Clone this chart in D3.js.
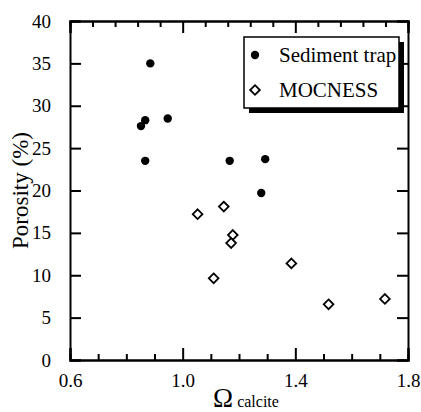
<!DOCTYPE html>
<html><head><meta charset="utf-8">
<script src="https://cdn.jsdelivr.net/npm/d3@7"></script>
<style>html,body{margin:0;padding:0;background:#fff;}svg{display:block;}</style>
</head><body>
<script>
const trapX = [0.885, 0.852, 0.867, 0.947, 0.867, 1.167, 1.293, 1.279];
const trapY = [35.0, 27.6, 28.3, 28.5, 23.5, 23.5, 23.7, 19.7];
const mocX = [1.053, 1.146, 1.178, 1.172, 1.110, 1.386, 1.518, 1.718];
const mocY = [17.2, 18.1, 14.75, 13.8, 9.64, 11.4, 6.57, 7.2];
const xTicks = [0.6, 1.0, 1.4, 1.8];
const yTicks = [0, 5, 10, 15, 20, 25, 30, 35, 40];
const seriesNames = ["Sediment trap", "MOCNESS"];

(function() {
const W = 421, H = 412;
const m = {l: 70, r: 408, t: 21, b: 360};
const font = '"Liberation Serif", "Times New Roman", serif';
const svg = d3.select("body").append("svg").attr("width", W).attr("height", H);
const x = d3.scaleLinear().domain([0.6, 1.8]).range([m.l, m.r]);
const y = d3.scaleLinear().domain([0, 40]).range([m.b, m.t]);

const fmt = d => d3.format(".1f")(d);
const notMajor = v => !xTicks.some(t => Math.abs(t - v) < 1e-6);
// bottom axis
const gBottom = svg.append("g").attr("transform", `translate(0,${m.b})`)
  .call(d3.axisBottom(x).tickValues(xTicks).tickFormat(fmt).tickSize(-12).tickPadding(14));
gBottom.append("g").call(d3.axisBottom(x).tickValues(d3.range(0.6, 1.8001, 0.1).filter(notMajor)).tickSize(-6).tickFormat(""));
// top axis
const gTop = svg.append("g").attr("transform", `translate(0,${m.t})`)
  .call(d3.axisTop(x).tickValues(xTicks).tickFormat("").tickSize(-12));
gTop.append("g").call(d3.axisTop(x).tickValues(d3.range(0.6, 1.8001, 0.08).filter(notMajor)).tickSize(-6).tickFormat(""));
// left axis
svg.append("g").attr("transform", `translate(${m.l},0)`)
  .call(d3.axisLeft(y).tickValues(yTicks).tickSize(-11).tickPadding(19));
// right axis
svg.append("g").attr("transform", `translate(${m.r},0)`)
  .call(d3.axisRight(y).tickValues(yTicks).tickSize(-11).tickFormat(""));

svg.selectAll("g").attr("font-family", null);
svg.selectAll(".domain").attr("stroke", "#000").attr("stroke-width", 2);
svg.selectAll(".tick line").attr("stroke", "#000").attr("stroke-width", 2);
svg.selectAll(".tick text").style("font-family", font).style("font-size", "19px").attr("fill", "#000");

// data
svg.append("g").selectAll("circle").data(trapX.map((v, i) => [v, trapY[i]])).join("circle")
  .attr("cx", d => x(d[0])).attr("cy", d => y(d[1])).attr("r", 4.2).attr("fill", "#000");
const diamond = d3.symbol().type(d3.symbolDiamond2).size(60);
svg.append("g").selectAll("path").data(mocX.map((v, i) => [v, mocY[i]])).join("path")
  .attr("d", diamond).attr("transform", d => `translate(${x(d[0])},${y(d[1])})`)
  .attr("fill", "#fff").attr("stroke", "#000").attr("stroke-width", 1.8);

// legend
const lg = {x: 244, y: 37, w: 155, h: 71};
svg.append("rect").attr("x", lg.x + 5).attr("y", lg.y + 5).attr("width", lg.w).attr("height", lg.h).attr("fill", "#000");
svg.append("rect").attr("x", lg.x).attr("y", lg.y).attr("width", lg.w).attr("height", lg.h)
  .attr("fill", "#fff").attr("stroke", "#000").attr("stroke-width", 1.5);
svg.append("circle").attr("cx", 255).attr("cy", 55).attr("r", 4.2).attr("fill", "#000");
svg.append("path").attr("d", diamond).attr("transform", "translate(255,90)")
  .attr("fill", "#fff").attr("stroke", "#000").attr("stroke-width", 1.8);
svg.append("text").attr("x", 279).attr("y", 62).text(seriesNames[0])
  .style("font-family", font).style("font-size", "21px");
svg.append("text").attr("x", 279).attr("y", 97).text(seriesNames[1])
  .style("font-family", font).style("font-size", "21px");

// axis titles
svg.append("text").attr("transform", `translate(28,${(m.t + m.b) / 2}) rotate(-90)`)
  .attr("text-anchor", "middle").style("font-family", font).style("font-size", "23px").text("Porosity (%)");
const xt = svg.append("text").attr("x", 246).attr("y", 407).attr("text-anchor", "middle").style("font-family", font);
xt.append("tspan").style("font-size", "27px").text("Ω");
xt.append("tspan").style("font-size", "16px").attr("dx", 4).text("calcite");
})();
</script>
</body></html>
